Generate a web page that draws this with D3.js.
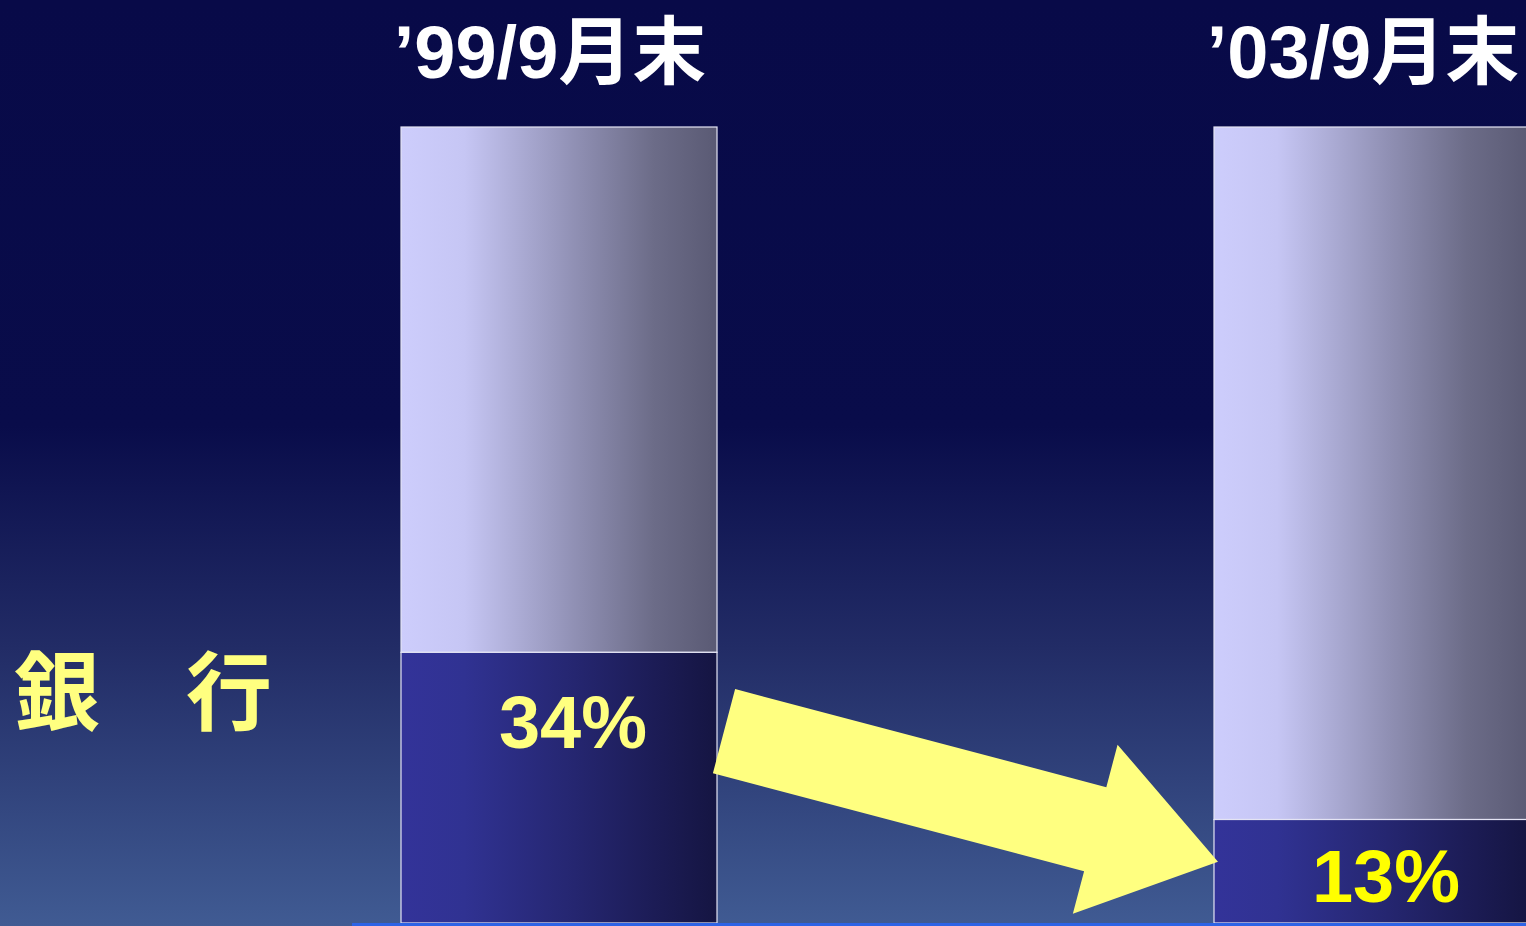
<!DOCTYPE html>
<html>
<head>
<meta charset="utf-8">
<script src="https://cdn.jsdelivr.net/npm/d3@7/dist/d3.min.js"></script>
<style>
  html, body { margin: 0; padding: 0; background: #080a48; overflow: hidden; }
  svg { display: block; }
  text { font-family: "Liberation Sans", Arial, "Noto Sans CJK JP", sans-serif; font-weight: bold; }
</style>
</head>
<body>
<svg id="chart" width="1526" height="926"></svg>
<script>
// Share of banks at each date
const periods = ["\u201999/9月末", "\u201903/9月末"];
const bankShare = [34, 13];
const shareLabels = ["34%", "13%"];
const labelColors = ["#ffff80", "#ffff00"];
const rowLabel = "銀\u3000行";

const W = 1526, H = 926;
const svg = d3.select("#chart");
const defs = svg.append("defs");

// Background: dark navy fading to a lighter blue toward the bottom
const bg = defs.append("linearGradient").attr("id", "bg")
  .attr("x1", 0).attr("y1", 0).attr("x2", 0).attr("y2", 1);
bg.append("stop").attr("offset", 0).attr("stop-color", "#080a48");
bg.append("stop").attr("offset", 0.46).attr("stop-color", "#090c4a");
bg.append("stop").attr("offset", 0.7).attr("stop-color", "#222c66");
bg.append("stop").attr("offset", 1).attr("stop-color", "#405b93");
svg.append("rect").attr("width", W).attr("height", H).attr("fill", "url(#bg)");

// Horizontal shading of the two bar segments
const upperGrad = defs.append("linearGradient").attr("id", "upper")
  .attr("x1", 0).attr("y1", 0).attr("x2", 1).attr("y2", 0);
[[0, "#cdcdfc"], [0.2, "#c6c6f4"], [0.55, "#9090b4"], [0.8, "#6c6c88"], [1, "#5a5a74"]]
  .forEach(([o, c]) => upperGrad.append("stop").attr("offset", o).attr("stop-color", c));
const lowerGrad = defs.append("linearGradient").attr("id", "lower")
  .attr("x1", 0).attr("y1", 0).attr("x2", 1).attr("y2", 0);
[[0, "#333399"], [0.2, "#303292"], [0.55, "#252670"], [0.8, "#1c1c56"], [1, "#151542"]]
  .forEach(([o, c]) => lowerGrad.append("stop").attr("offset", o).attr("stop-color", c));

const x = d3.scaleBand().domain(periods).range([401, 1530]).paddingInner(0.6113).paddingOuter(0);
const y = d3.scaleLinear().domain([0, 100]).range([923, 127]);
const bw = x.bandwidth();

const rows = periods.map((p, i) => ({ period: p, value: bankShare[i], label: shareLabels[i], color: labelColors[i] }));

// Remaining share (upper segment)
svg.selectAll("rect.upper").data(rows).join("rect")
  .attr("class", "upper")
  .attr("x", d => x(d.period)).attr("y", y(100))
  .attr("width", bw).attr("height", d => y(d.value) - y(100))
  .attr("fill", "url(#upper)")
  .attr("stroke", "#e4e4f4").attr("stroke-width", 1.2);

// Bank share (lower segment)
svg.selectAll("rect.lower").data(rows).join("rect")
  .attr("class", "lower")
  .attr("x", d => x(d.period)).attr("y", d => y(d.value))
  .attr("width", bw).attr("height", d => y(0) - y(d.value))
  .attr("fill", "url(#lower)")
  .attr("stroke", "#e4e4f4").attr("stroke-width", 1.2);

// Baseline
svg.append("line")
  .attr("x1", 352).attr("x2", W)
  .attr("y1", y(0) + 1.5).attr("y2", y(0) + 1.5)
  .attr("stroke", "#2d63e6").attr("stroke-width", 3);

// Period headings
svg.selectAll("text.period").data(rows).join("text")
  .attr("class", "period")
  .attr("x", d => x(d.period) + bw / 2 - 9)
  .attr("y", 78)
  .attr("text-anchor", "middle")
  .attr("fill", "#ffffff")
  .attr("font-size", 74)
  .text(d => d.period);

// Value labels inside the lower segments
svg.selectAll("text.value").data(rows).join("text")
  .attr("class", "value")
  .attr("x", d => x(d.period) + bw / 2 + 14)
  .attr("y", d => Math.min(y(d.value) + 96, y(0) - 21))
  .attr("text-anchor", "middle")
  .attr("fill", d => d.color)
  .attr("font-size", 74)
  .text(d => d.label);

// Row label
svg.append("text")
  .attr("x", 14).attr("y", 724)
  .attr("fill", "#ffff80")
  .attr("font-size", 86)
  .style("font-family", "'Noto Sans CJK JP', sans-serif")
  .text(rowLabel);

// Block arrow showing the decline from the first bar to the second
const tail = [x(periods[0]) + bw + 7, y(24.1)];
const tip = [x(periods[1]) + 4, y(7.7)];
const dx = tip[0] - tail[0], dy = tip[1] - tail[1];
const len = Math.hypot(dx, dy);
const ux = dx / len, uy = dy / len;     // along the arrow
const nx = -uy, ny = ux;                // across the arrow
const shaftHalf = 43.5, headHalf = 87.5, headLen = 127;
const baseC = [tip[0] - ux * headLen, tip[1] - uy * headLen];
const pt = (c, s) => [c[0] + nx * s, c[1] + ny * s];
const arrowPts = [
  pt(tail, -shaftHalf), pt(baseC, -shaftHalf), pt(baseC, -headHalf),
  tip,
  pt(baseC, headHalf), pt(baseC, shaftHalf), pt(tail, shaftHalf)
];
svg.append("path")
  .attr("d", d3.line()(arrowPts) + "Z")
  .attr("fill", "#ffff80");
</script>
</body>
</html>
